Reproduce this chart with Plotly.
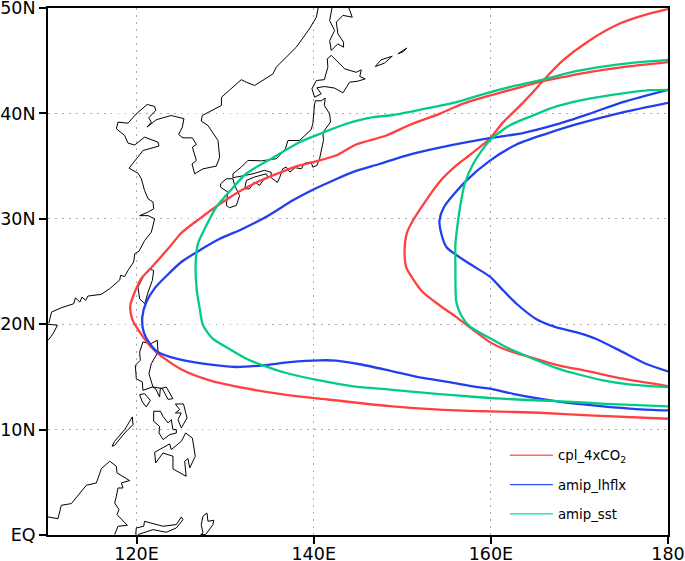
import plotly.graph_objects as go

# ---------- tick labels ----------
lon_ticks = [120, 140, 160, 180]
lon_labels = ["120E", "140E", "160E", "180"]
lat_ticks = [0, 10, 20, 30, 40, 50]
lat_labels = ["EQ", "10N", "20N", "30N", "40N", "50N"]

# ---------- series: (lon, lat) ----------
red_outer = [(180,44.86),(174.9,44.39),(171.1,43.91),(168.5,43.5),(166.1,43.1),(163.6,42.55),(159.9,41.7),(156.8,40.9),
 (154.2,39.96),(150.8,38.9),(148.2,37.9),(144.8,37.05),(142.5,36.0),(140.7,35.54),(138.4,35.06),(136.7,34.55),(134.2,33.7),
 (131.6,32.6),(129.4,31.4),(127.1,30.0),(125.05,28.65),(123.7,27.3),(121.7,25.4),(120.5,24.3),(119.8,23.05),(119.3,21.8),
 (119.5,20.5),(120.35,19.26),(122.04,17.5),(124.86,15.8),(128.25,14.67),(132.4,13.9),(136.9,13.3),(140.66,12.94),
 (148.57,12.23),(154.2,11.9),(159.86,11.73),(165.5,11.6),(171.1,11.35),(180,11.03)]
red_inner = [(180,14.13),(174.9,14.83),(171.1,15.52),(167.4,16.15),(164.4,16.88),(161.4,17.67),(159.9,18.3),(158.35,19.25),
 (156.1,20.67),(154.2,21.8),(152.3,23.05),(151.2,24.3),(150.45,25.4),(150.26,26.84),(150.5,28.6),(151.2,29.84),(152.4,31.4),
 (154.2,33.5),(156.1,35.06),(157.8,36.17),(159.86,37.6),(161.4,39.17),(162.9,40.4),(164.4,41.7),(165.9,43.1),(168.1,45.0),
 (171.1,46.9),(174.5,48.5),(177.2,49.3),(180,49.9)]
blue_outer = [(180,42.24),(174.9,41.07),(171.1,39.96),(167.4,38.95),(163.6,38.13),(159.86,37.65),(154.2,36.75),(150.45,36.0),
 (147.4,35.2),(144.4,34.43),(142.2,33.64),(139.9,32.76),(137.65,31.75),(134.6,30.17),(132,29.06),(129.4,28.1),(127.1,27.0),
 (125.05,25.9),(123.4,24.6),(122.04,23.4),(121.1,22.1),(120.65,20.7),(120.8,19.26),(121.5,18.15),(122.4,17.36),(124.5,16.73),
 (127.5,16.25),(131.26,15.94),(134.27,16.1),(137.3,16.4),(140.66,16.57),(142.5,16.55),(145.2,16.2),(148.57,15.6),(152.3,14.9),
 (155.3,14.5),(158,14.1),(159.86,13.88),(162.5,13.4),(165.5,12.93),(168.5,12.55),(172.65,12.2),(176.4,11.95),(180,11.82)]
blue_inner = [(180,15.52),(177.5,16.25),(174.9,17.35),(171.9,18.6),(169.6,19.25),(167.4,19.7),(165.1,20.5),(162.9,21.94),
 (161.4,23.2),(159.86,24.53),(157.6,25.73),(155,27.3),(154.4,28.6),(154.2,29.84),(154.7,31.1),(157.2,33.6),(159.86,35.5),
 (162.9,37.05),(166.25,38.06),(169.6,38.95),(174.9,40.1),(180,41.0)]
green_outer = [(180,45.08),(174.9,44.7),(169.6,44.0),(166.25,43.28),(162.9,42.65),(159.86,42.0),(156.1,41.07),(152.3,40.4),
 (148.57,39.8),(146.7,39.64),(143.67,39.0),(141,38.16),(138.4,37.27),(135.4,35.8),(132.4,34.3),(130.5,32.6),(129,31.1),
 (127.9,29.4),(126.93,27.64),(126.67,25.74),(126.8,23.2),(127.1,21.63),(127.5,19.9),(128.6,18.63),(130.1,17.84),(132.4,16.73),
 (134.27,16.1),(136.9,15.37),(140.66,14.67),(144.5,14.1),(148.57,13.8),(152.3,13.5),(156.1,13.24),(159.86,13.0),(163.6,12.83),
 (167.4,12.7),(173,12.45),(180,12.2)]
green_inner = [(180,14.03),(175.6,14.29),(172.65,14.67),(169.6,15.3),(167.4,15.84),(164.75,16.72),(161.7,17.83),(159.86,18.7),
 (157.6,19.79),(156.66,20.83),(156.1,22.1),(156,25.4),(156,27.63),(156.3,29.84),(156.5,31.0),(157.04,33.3),(158,35.2),
 (159.86,37.43),(162.1,38.85),(164.75,39.8),(167.4,40.66),(171.1,41.4),(174.9,41.9),(177.9,42.2),(180,42.24)]

# ---------- coastlines: (lon, lat) ----------
asia_coast = [(110.1,20.1),(110.19,20.36),(110.4,21.15),(111.5,21.56),(112.9,21.94),(113.1,22.5),(113.6,22.1),(113.84,22.57),
 (114.26,22.26),(114.5,22.67),(116,22.83),(116.96,23.36),(118.1,24.2),(118.2,24.63),(118.66,24.53),(119.03,25.1),(119.67,25.9),
 (119.79,26.68),(120.28,26.94),(120.92,27.95),(121.67,28.74),(122.04,30.0),(121.3,30.3),(120.35,30.3),(121.3,30.64),(121.93,30.95),
 (121.86,31.58),(121.3,31.9),(121.1,32.37),(120.9,32.69),(120.54,33.8),(120.16,34.33),(119.15,34.8),(119.79,35.5),(120.73,36.48),
 (122.53,36.9),(122.42,37.27),(120.9,37.75),(119.79,37.0),(119.03,37.18),(118.66,37.9),(117.72,38.54),(117.9,39.17),(119.03,39.07),
 (119.97,39.96),(121.2,40.85),(122.04,40.66),(122.16,40.28),(121.37,39.58),(121.67,39.17),(121.18,38.7),(122.23,39.4),(123.92,39.8),
 (125.35,39.5),(125.17,38.7),(124.75,38.0),(125.24,37.68),(126.3,37.68),(126.75,37.05),(126.3,36.8),(126.75,35.53),(126.26,35.2),
 (126.56,34.27),(127.5,34.74),(129,35.0),(129.38,35.85),(129.19,37.43),(128.06,38.85),(127.3,39.27),(127.42,39.8),(129.57,40.75),
 (129.6,41.54),(130.88,42.55),(131.82,43.2),(132.39,42.96),(133.33,42.65),(135.4,43.75),(135.77,44.39),(138.03,46.28),(139.5,48.0),
 (140.3,49.13),(140.5,50.0)]
hainan = [(110.0,20.0),(111.06,19.9),(110.57,19.1),(110.0,18.46)]
sakhalin = [(142.06,50.0),(141.8,48.8),(142.36,47.87),(141.8,46.9),(141.98,45.97),(142.73,46.6),(143.37,46.28),(143.37,46.76),
 (142.73,47.55),(142.55,48.66),(143.3,49.3),(144.35,49.13),(143.97,50)]
hokkaido = [(141.98,45.5),(141.53,45.18),(141.6,44.39),(141.2,43.2),(140.3,43.12),(139.8,42.33),(140.1,41.54),(140.85,41.86),
 (140.36,42.43),(141.2,42.55),(142.36,42.4),(143.3,41.95),(144.05,42.96),(145,43.06),(145.82,43.28),(145.2,43.5),(145.37,44.13),
 (144.8,43.9),(143.5,44.23),(141.98,45.5)]
kuril_a = [(146.95,44.45),(147.6,45.08),(148.87,45.43),(148,44.77),(146.95,44.45)]
kuril_b = [(149.5,45.65),(150.5,46.2),(150.1,45.85),(149.5,45.65)]
honshu = [(140.1,40.9),(140.2,41.2),(140.85,41.2),(141.3,41.45),(141.2,40.75),(141.8,39.96),(141.9,39.17),(141.04,38.2),(141.1,37.43),
 (140.66,35.7),(140.36,35.06),(139.9,34.9),(139.7,35.38),(139.1,35.3),(138.8,35.06),(138.6,34.75),(137.9,34.85),(137.3,34.43),
 (136.9,34.9),(136.5,34.75),(136.15,33.9),(135.9,33.45),(135.2,33.9),(135.2,34.4),(134.45,34.6),(133.14,34.27),(132.2,34.11),
 (130.88,33.9),(130.88,34.27),(131.82,34.9),(132.57,35.54),(134.1,35.5),(135.77,35.7),(136.15,36.0),(136.8,36.64),(137.09,37.43),
 (138.4,37.43),(139.7,38.45),(139.9,39.0),(140.1,40.9)]
kyushu = [(129.49,33.32),(130.13,33.8),(130.88,33.8),(131.07,33.17),(131.63,32.2),(131.26,31.27),(130.5,31.05),(130.13,31.27),
 (130.3,32.53),(129.49,33.0),(129.49,33.32)]
shikoku = [(132.2,32.85),(132.4,33.64),(133.3,33.96),(134.64,34.27),(134.83,33.96),(134.27,33.64),(133.9,33.17),(133.3,33.48),(132.76,32.85),(132.2,32.85)]
taiwan = [(121.55,25.2),(121.93,25.1),(121.78,24.15),(121.3,23.05),(120.92,21.94),(120.35,22.4),(120.16,23.52),(120.73,24.47),(121.55,25.2)]
luzon = [(122.34,18.47),(121.6,18.15),(120.72,18.31),(120.35,17.36),(120.42,16.57),(119.86,16.1),(119.97,14.83),(120.65,14.51),
 (120.72,13.72),(121.78,14.04),(122.15,13.88),(122.6,13.09),(122.68,13.88),(123.36,14.04),(124.1,12.93),(123.55,12.87),(122.9,13.9),
 (121.85,14.04),(121.4,15.3),(121.66,16.25),(122.42,17.36),(122.34,18.47)]
mindoro = [(120.35,13.31),(120.91,13.41),(121.55,12.78),(121.1,12.14),(120.65,12.62),(120.35,13.31)]
panay_negros = [(121.93,11.74),(122.7,11.74),(122.98,11.26),(123.55,10.63),(123.92,10.95),(124.1,10.0),(124.49,10),(124.49,9.68),
 (123.74,9.52),(123,9.05),(122.53,9.68),(122.6,10.3),(121.93,10.79),(121.93,11.74)]
samar_leyte = [(124.38,12.43),(125.3,12.43),(125.7,11.1),(125.05,10.16),(124.68,10.95),(125.05,11.58),(124.38,11.58),(124.87,11.9),(124.38,12.43)]
mindanao = [(125.54,9.68),(126.3,9.2),(126.63,7.47),(126,6.36),(125.8,7.25),(125.43,7.0),(125.6,5.57),(124.11,6.27),(124.11,7.47),
 (122.98,7.78),(122.16,6.84),(122.04,7.85),(123.74,8.64),(123.92,8.1),(125.05,8.89),(125.54,9.68)]
palawan = [(119.52,11.2),(119.6,10.47),(118.66,9.68),(117.53,8.51),(117.23,8.42),(117.53,8.89),(118.66,10),(119.52,11.2)]
borneo = [(110,1.71),(111.13,1.55),(111.5,2.82),(112.64,2.98),(114.33,4.72),(115.46,4.94),(116.03,6.3),(116.97,7.0),(117.72,6.52),
 (117.79,5.89),(119.22,5.16),(118.28,4.94),(118.47,4.46),(117.9,4.46),(117.72,3.67),(117.53,3.04),(118.02,2.41),(117.79,1.94),
 (118.96,0.92),(117.9,0.83),(117.53,0.04)]
sulawesi = [(119.9,0.04),(119.97,0.67),(120.8,0.83),(120.9,1.3),(122.98,0.83),(124.49,0.99),(125.05,1.71),(125.24,1.46),(124.49,0.67),
 (123.36,0.26),(121.86,0.51),(120.16,0.04)]
halmahera = [(127.95,2.09),(127.5,1.78),(127.3,0.99),(127.5,0.2),(127.24,0.04),(127.8,0.04),(128.63,0.99),(128.7,1.4),(128.06,1.3),(127.95,2.09)]

coasts = [asia_coast, hainan, sakhalin, hokkaido, kuril_a, kuril_b, honshu, kyushu, shikoku, taiwan, luzon, mindoro,
          panay_negros, samar_leyte, mindanao, palawan, borneo, sulawesi, halmahera]

RED, BLUE, GREEN = "#ff4040", "#2040f0", "#00cc88"
fig = go.Figure()

coast_x, coast_y = [], []
for c in coasts:
    coast_x += [p[0] for p in c] + [None]
    coast_y += [p[1] for p in c] + [None]
fig.add_trace(go.Scatter(x=coast_x, y=coast_y, mode="lines", line=dict(color="#000000", width=1),
                         showlegend=False, hoverinfo="skip"))

for pts, col in [(red_outer, RED), (red_inner, RED), (blue_outer, BLUE), (blue_inner, BLUE),
                 (green_outer, GREEN), (green_inner, GREEN)]:
    fig.add_trace(go.Scatter(x=[p[0] for p in pts], y=[p[1] for p in pts], mode="lines",
                             line=dict(color=col, width=2.3, shape="spline", smoothing=0.7), showlegend=False))

for name, col in [("cpl_4xCO<sub>2</sub>", "#ff6868"), ("amip_lhflx", "#3050f0"), ("amip_sst", "#00e090")]:
    fig.add_trace(go.Scatter(x=[None], y=[None], mode="lines", name=name, legendgroup=name,
                             line=dict(color=col, width=1.4)))

axis_common = dict(automargin=False, showline=True, linecolor="black", linewidth=1.8, mirror=True, ticks="outside", ticklen=7, tickwidth=1.5,
                   tickcolor="black", tickfont=dict(family="DejaVu Sans", size=17.5, color="black"), showgrid=True,
                   gridcolor="#aaaabb", gridwidth=1.3, griddash="1.5px 5.5px", zeroline=False, fixedrange=True,
                   ticklabeloverflow="allow")
fig.update_xaxes(range=[110, 180], tickvals=lon_ticks, ticktext=lon_labels, ticklabelstandoff=-5, **axis_common)
fig.update_yaxes(range=[0, 50], tickvals=lat_ticks, ticktext=lat_labels, **axis_common)

fig.update_layout(width=685, height=561, autosize=False, margin=dict(l=48, r=17, t=8, b=26, pad=0),
                  paper_bgcolor="white", plot_bgcolor="white",
                  font=dict(family="DejaVu Sans", color="black"),
                  legend=dict(x=0.737, y=0.18, xanchor="left", yanchor="top", bgcolor="rgba(0,0,0,0)", itemwidth=43,
                              font=dict(size=13.3, family="DejaVu Sans"), tracegroupgap=9))

fig.write_html("out.html", config=dict(displayModeBar=False), post_script="document.body.style.margin='0';")
